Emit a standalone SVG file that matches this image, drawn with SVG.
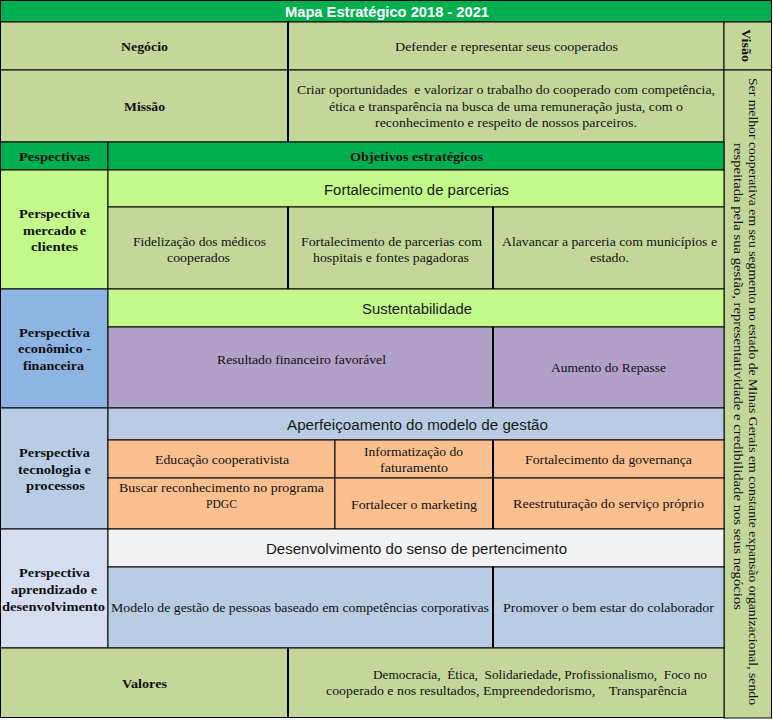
<svg xmlns="http://www.w3.org/2000/svg" width="773" height="720" viewBox="0 0 773 720">
<style>
rect{stroke:#000;stroke-width:1}
.dg{fill:#00B050}.ol{fill:#C4D79B}.lg{fill:#C3F88A}.bl{fill:#8DB4E2}.pu{fill:#B1A0C7}
.lb{fill:#B8CCE4}.or{fill:#FABF8F}.gr{fill:#F2F2F2}.pb{fill:#D5DEF0}
text{fill:#111;text-anchor:middle}
.t{font-family:"Liberation Sans",Arial,sans-serif;font-weight:bold;font-size:14px;fill:#fff}
.s{font-family:"Liberation Sans",Arial,sans-serif;font-size:15.5px;fill:#1a1a1a}
.r{font-family:"Liberation Serif","Times New Roman",serif;font-size:12.5px}
.b{font-family:"Liberation Serif","Times New Roman",serif;font-size:13.5px;font-weight:bold}
.st{text-anchor:start}
.pre{white-space:pre}
.thick{stroke:#000;stroke-width:2}
</style>
<g id="title"><rect class="dg" x="0.5" y="0.5" width="771" height="21.5"/><text class="t" x="387" y="17" textLength="204" lengthAdjust="spacingAndGlyphs">Mapa Estratégico 2018 - 2021</text></g>
<g id="negocio"><rect class="ol" x="0.5" y="22" width="287.5" height="48"/><text class="b" x="144.5" y="51" textLength="47" lengthAdjust="spacingAndGlyphs">Negócio</text></g>
<g id="negocio-valor"><rect class="ol" x="288" y="22" width="436" height="48"/><text class="r" x="506.5" y="51" textLength="223" lengthAdjust="spacingAndGlyphs">Defender e representar seus cooperados</text></g>
<g id="missao"><rect class="ol" x="0.5" y="70" width="287.5" height="72"/><text class="b" x="144.5" y="111" textLength="41" lengthAdjust="spacingAndGlyphs">Missão</text></g>
<g id="missao-valor"><rect class="ol" x="288" y="70" width="436" height="72"/>
<text class="r pre" x="506" y="94" textLength="418" lengthAdjust="spacingAndGlyphs">Criar oportunidades  e valorizar o trabalho do cooperado com competência,</text>
<text class="r" x="506" y="111" textLength="354" lengthAdjust="spacingAndGlyphs">ética e transparência na busca de uma remuneração justa, com o</text>
<text class="r" x="506" y="127" textLength="262" lengthAdjust="spacingAndGlyphs">reconhecimento e respeito de nossos parceiros.</text></g>
<g id="visao"><rect class="ol" x="724" y="22" width="47.5" height="48"/><text class="b st" transform="translate(742,29) rotate(90)" textLength="33" lengthAdjust="spacingAndGlyphs">Visão</text></g>
<g id="visao-valor"><rect class="ol" x="724" y="70" width="47.5" height="648"/>
<text class="r st" transform="translate(749,78) rotate(90)" textLength="627" lengthAdjust="spacingAndGlyphs">Ser melhor cooperativa em seu segmento no estado de Minas Gerais em constante expansão organizacional, sendo</text>
<text class="r st" transform="translate(734,143) rotate(90)" textLength="467" lengthAdjust="spacingAndGlyphs">respeitada pela sua gestão, representatividade e credibilidade nos seus negócios</text></g>
<g id="hdr-perspectivas"><rect class="dg" x="0.5" y="142" width="107.5" height="28"/><text class="b" x="54.5" y="161" textLength="71" lengthAdjust="spacingAndGlyphs">Pespectivas</text></g>
<g id="hdr-objetivos"><rect class="dg" x="108" y="142" width="616" height="28"/><text class="b" x="416.5" y="161" textLength="133" lengthAdjust="spacingAndGlyphs">Objetivos estratégicos</text></g>

<g id="persp-mercado"><rect class="lg" x="0.5" y="170" width="107.5" height="119"/>
<text class="b" x="54.5" y="218" textLength="71" lengthAdjust="spacingAndGlyphs">Perspectiva</text>
<text class="b" x="54.5" y="234.5" textLength="63" lengthAdjust="spacingAndGlyphs">mercado e</text>
<text class="b" x="54.5" y="251" textLength="47" lengthAdjust="spacingAndGlyphs">clientes</text></g>
<g id="obj-parcerias"><rect class="lg" x="108" y="170" width="616" height="37"/><text class="s" x="416.5" y="195" textLength="185" lengthAdjust="spacingAndGlyphs">Fortalecimento de parcerias</text></g>
<g id="obj-fidelizacao"><rect class="ol" x="108" y="207" width="180" height="82"/>
<text class="r" x="199.5" y="245.5" textLength="133" lengthAdjust="spacingAndGlyphs">Fidelização dos médicos</text>
<text class="r" x="198.5" y="261.5" textLength="63" lengthAdjust="spacingAndGlyphs">cooperados</text></g>
<g id="obj-hospitais"><rect class="ol" x="288" y="207" width="205" height="82"/>
<text class="r" x="391.5" y="245.5" textLength="181" lengthAdjust="spacingAndGlyphs">Fortalecimento de parcerias com</text>
<text class="r" x="391" y="261.5" textLength="156" lengthAdjust="spacingAndGlyphs">hospitais e fontes pagadoras</text></g>
<g id="obj-municipios"><rect class="ol" x="493" y="207" width="231" height="82"/>
<text class="r" x="609.5" y="245.5" textLength="215" lengthAdjust="spacingAndGlyphs">Alavancar a parceria com municípios e</text>
<text class="r" x="609.5" y="261.5" textLength="39" lengthAdjust="spacingAndGlyphs">estado.</text></g>

<g id="persp-economico"><rect class="bl" x="0.5" y="289" width="107.5" height="119"/>
<text class="b" x="54.5" y="337" textLength="71" lengthAdjust="spacingAndGlyphs">Perspectiva</text>
<text class="b" x="54.5" y="353" textLength="73" lengthAdjust="spacingAndGlyphs">econômico -</text>
<text class="b" x="53.5" y="369.5" textLength="61" lengthAdjust="spacingAndGlyphs">financeira</text></g>
<g id="obj-sustentabilidade"><rect class="lg" x="108" y="289" width="616" height="38"/><text class="s" x="417" y="314" textLength="110" lengthAdjust="spacingAndGlyphs">Sustentabilidade</text></g>
<g id="obj-resultado"><rect class="pu" x="108" y="327" width="385" height="81"/><text class="r" x="301.5" y="364" textLength="169" lengthAdjust="spacingAndGlyphs">Resultado financeiro favorável</text></g>
<g id="obj-repasse"><rect class="pu" x="493" y="327" width="231" height="81"/><text class="r" x="608.5" y="372" textLength="115" lengthAdjust="spacingAndGlyphs">Aumento do Repasse</text></g>

<g id="persp-tecnologia"><rect class="lb" x="0.5" y="408" width="107.5" height="121"/>
<text class="b" x="54.5" y="457" textLength="71" lengthAdjust="spacingAndGlyphs">Perspectiva</text>
<text class="b" x="54.5" y="473.5" textLength="73" lengthAdjust="spacingAndGlyphs">tecnologia e</text>
<text class="b" x="55.5" y="490" textLength="59" lengthAdjust="spacingAndGlyphs">processos</text></g>
<g id="obj-gestao"><rect class="lb" x="108" y="408" width="616" height="32"/><text class="s" x="417.5" y="430" textLength="261" lengthAdjust="spacingAndGlyphs">Aperfeiçoamento do modelo de gestão</text></g>
<g id="obj-educacao"><rect class="or" x="108" y="440" width="227" height="38"/><text class="r" x="222" y="464" textLength="134" lengthAdjust="spacingAndGlyphs">Educação cooperativista</text></g>
<g id="obj-informatizacao"><rect class="or" x="335" y="440" width="158" height="38"/>
<text class="r" x="413.5" y="456" textLength="99" lengthAdjust="spacingAndGlyphs">Informatização do</text>
<text class="r" x="414" y="472" textLength="68" lengthAdjust="spacingAndGlyphs">faturamento</text></g>
<g id="obj-governanca"><rect class="or" x="493" y="440" width="231" height="38"/><text class="r" x="608.5" y="464" textLength="167" lengthAdjust="spacingAndGlyphs">Fortalecimento da governança</text></g>
<g id="obj-pdgc"><rect class="or" x="108" y="478" width="227" height="51"/>
<text class="r" x="221.5" y="492" textLength="205" lengthAdjust="spacingAndGlyphs">Buscar reconhecimento no programa</text>
<text class="r" x="221.5" y="508" textLength="31" lengthAdjust="spacingAndGlyphs">PDGC</text></g>
<g id="obj-marketing"><rect class="or" x="335" y="478" width="158" height="51"/><text class="r" x="414" y="509" textLength="126" lengthAdjust="spacingAndGlyphs">Fortalecer o marketing</text></g>
<g id="obj-reestruturacao"><rect class="or" x="493" y="478" width="231" height="51"/><text class="r" x="608.5" y="508" textLength="191" lengthAdjust="spacingAndGlyphs">Reestruturação do serviço próprio</text></g>

<g id="persp-aprendizado"><rect class="pb" x="0.5" y="529" width="107.5" height="119"/>
<text class="b" x="54.5" y="577" textLength="71" lengthAdjust="spacingAndGlyphs">Perspectiva</text>
<text class="b" x="54" y="594" textLength="86" lengthAdjust="spacingAndGlyphs">aprendizado e</text>
<text class="b" x="53.5" y="611" textLength="103" lengthAdjust="spacingAndGlyphs">desenvolvimento</text></g>
<g id="obj-pertencimento"><rect class="gr" x="108" y="529" width="616" height="38"/><text class="s" x="416.5" y="554" textLength="301" lengthAdjust="spacingAndGlyphs">Desenvolvimento do senso de pertencimento</text></g>
<g id="obj-competencias"><rect class="lb" x="108" y="567" width="385" height="81"/><text class="r" x="300" y="611.5" textLength="378" lengthAdjust="spacingAndGlyphs">Modelo de gestão de pessoas baseado em competências corporativas</text></g>
<g id="obj-bemestar"><rect class="lb" x="493" y="567" width="231" height="81"/><text class="r" x="608.5" y="611.5" textLength="211" lengthAdjust="spacingAndGlyphs">Promover o bem estar do colaborador</text></g>

<g id="valores"><rect class="ol" x="0.5" y="648" width="287.5" height="69.5"/><text class="b" x="144.5" y="688" textLength="45" lengthAdjust="spacingAndGlyphs">Valores</text></g>
<g id="valores-valor"><rect class="ol" x="288" y="648" width="436" height="69.5"/>
<text class="r st pre" x="373" y="679" textLength="334" lengthAdjust="spacingAndGlyphs">Democracia,  Ética,  Solidariedade, Profissionalismo,  Foco no</text>
<text class="r st pre" x="326" y="695" textLength="361" lengthAdjust="spacingAndGlyphs">cooperado e nos resultados, Empreendedorismo,    Transparência</text></g>

<g id="dividers">
<line class="thick" x1="288" y1="22" x2="288" y2="142"/>
<line class="thick" x1="288" y1="207" x2="288" y2="289"/>
<line class="thick" x1="493" y1="207" x2="493" y2="289"/>
<line class="thick" x1="493" y1="327" x2="493" y2="408"/>
<line class="thick" x1="493" y1="440" x2="493" y2="529"/>
<line class="thick" x1="493" y1="567" x2="493" y2="648"/>
<line class="thick" x1="288" y1="648" x2="288" y2="718"/>
</g>
</svg>
